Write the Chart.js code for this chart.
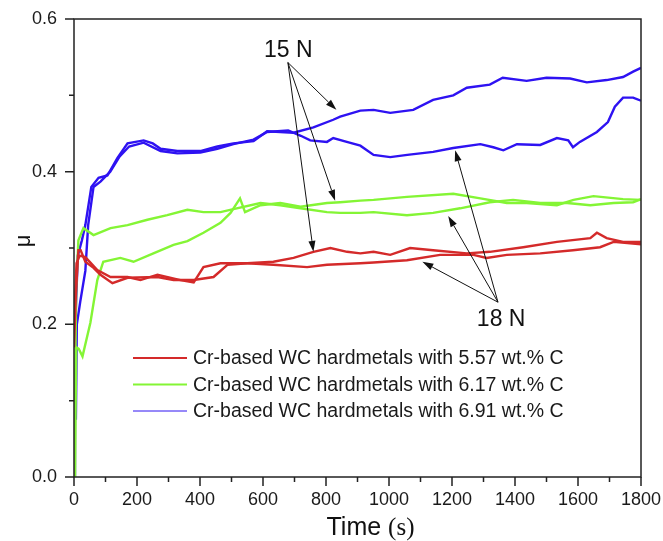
<!DOCTYPE html>
<html>
<head>
<meta charset="utf-8">
<script src="https://cdn.jsdelivr.net/npm/chart.js@4.4.1/dist/chart.umd.min.js"></script>
<style>
  html, body { margin: 0; padding: 0; background: #fff; }
  #wrap { width: 663px; height: 541px; }
</style>
</head>
<body>
<div id="wrap"><canvas id="chart" width="663" height="541"></canvas></div>
<script>
// values: time (s) and friction coefficient mu
const redA_t  = [0, 6, 14, 21, 36, 62, 84, 122, 170, 265, 316, 380, 443, 487, 550, 633, 697, 760, 814, 867, 909, 951, 1004, 1067, 1140, 1247, 1320, 1426, 1533, 1639, 1660, 1691, 1743, 1800];
const redA_mu = [0.17, 0.24, 0.297, 0.297, 0.282, 0.274, 0.265, 0.254, 0.261, 0.262, 0.258, 0.258, 0.262, 0.278, 0.28, 0.282, 0.287, 0.295, 0.3, 0.295, 0.293, 0.295, 0.291, 0.3, 0.297, 0.293, 0.295, 0.301, 0.308, 0.313, 0.32, 0.313, 0.308, 0.308];

const redB_t  = [0, 8, 18, 36, 74, 116, 170, 211, 265, 338, 380, 411, 465, 550, 633, 740, 803, 909, 951, 1057, 1162, 1268, 1310, 1374, 1480, 1584, 1670, 1713, 1800];
const redB_mu = [0.2, 0.28, 0.29, 0.288, 0.271, 0.262, 0.262, 0.258, 0.265, 0.258, 0.255, 0.275, 0.28, 0.28, 0.278, 0.275, 0.278, 0.28, 0.281, 0.284, 0.291, 0.291, 0.287, 0.291, 0.293, 0.297, 0.301, 0.308, 0.305];

const greenA_t  = [0, 3, 7, 14, 30, 62, 116, 170, 233, 296, 360, 411, 465, 506, 592, 655, 719, 803, 845, 909, 951, 1057, 1140, 1226, 1320, 1394, 1480, 1566, 1639, 1713, 1775, 1800];
const greenA_mu = [0.0, 0.1, 0.25, 0.31, 0.326, 0.317, 0.326, 0.33, 0.337, 0.343, 0.35, 0.347, 0.347, 0.351, 0.359, 0.356, 0.352, 0.347, 0.346, 0.346, 0.347, 0.343, 0.346, 0.352, 0.36, 0.363, 0.359, 0.359, 0.356, 0.359, 0.36, 0.364];

const greenB_t  = [3, 7, 15, 27, 52, 74, 93, 147, 189, 252, 316, 360, 411, 465, 497, 527, 543, 592, 655, 719, 803, 845, 909, 951, 1057, 1204, 1290, 1374, 1437, 1533, 1586, 1649, 1743, 1800];
const greenB_mu = [0.0, 0.17, 0.168, 0.158, 0.202, 0.258, 0.282, 0.287, 0.282, 0.293, 0.304, 0.309, 0.32, 0.333, 0.346, 0.365, 0.347, 0.356, 0.359, 0.354, 0.359, 0.36, 0.362, 0.363, 0.367, 0.371, 0.365, 0.359, 0.359, 0.356, 0.363, 0.368, 0.364, 0.363];

const blueA_t  = [0, 5, 12, 25, 36, 55, 78, 106, 138, 170, 221, 250, 275, 328, 401, 455, 506, 570, 613, 655, 697, 760, 823, 845, 909, 951, 1004, 1077, 1140, 1204, 1247, 1320, 1361, 1437, 1500, 1575, 1628, 1691, 1743, 1775, 1800];
const blueA_mu = [0.17, 0.21, 0.29, 0.31, 0.33, 0.38, 0.392, 0.395, 0.418, 0.437, 0.441, 0.437, 0.43, 0.427, 0.427, 0.433, 0.437, 0.44, 0.453, 0.452, 0.451, 0.458, 0.468, 0.472, 0.48, 0.481, 0.477, 0.481, 0.494, 0.5, 0.51, 0.514, 0.523, 0.519, 0.523, 0.522, 0.517, 0.52, 0.524, 0.531, 0.536];

const blueB_t  = [0, 3, 4, 6, 9, 20, 36, 45, 62, 84, 115, 145, 175, 221, 275, 328, 401, 455, 506, 570, 613, 680, 720, 750, 803, 823, 866, 909, 951, 1004, 1058, 1140, 1204, 1290, 1331, 1363, 1406, 1480, 1533, 1569, 1584, 1606, 1660, 1695, 1717, 1743, 1775, 1800];
const blueB_mu = [0.0, 0.07, 0.12, 0.075, 0.2, 0.23, 0.27, 0.33, 0.38, 0.387, 0.4, 0.42, 0.433, 0.438, 0.427, 0.424, 0.425, 0.43, 0.436, 0.442, 0.452, 0.454, 0.447, 0.441, 0.439, 0.444, 0.439, 0.434, 0.422, 0.419, 0.422, 0.426, 0.431, 0.436, 0.432, 0.428, 0.436, 0.435, 0.444, 0.441, 0.432, 0.439, 0.452, 0.465, 0.485, 0.497, 0.497, 0.493];

const legendLabels = [
    'Cr-based WC hardmetals with 5.57 wt.% C',
    'Cr-based WC hardmetals with 6.17 wt.% C',
    'Cr-based WC hardmetals with 6.91 wt.% C'
];
const seriesColors = ['#d42a2a', '#84f535', '#2e12f2'];
const legendLineWidths = [2, 2, 1];

const xMin = 0, xMax = 1800, xStep = 200, xMinorStep = 100;
const yMin = 0, yMax = 0.6, yStep = 0.2, yMinorStep = 0.1;

// load labels with arrow anchors, in data units
const notes = [
    { text: '15 N', at: [680, 0.559], from: [679, 0.543], to: [[833, 0.481], [829, 0.362], [760, 0.295]] },
    { text: '18 N', at: [1356, 0.206], from: [1346, 0.229], to: [[1210, 0.428], [1188, 0.342], [1106, 0.282]] }
];

const SANS = '"Liberation Sans", Arial, sans-serif';
const SERIF = '"Liberation Serif", "Times New Roman", serif';

function toPoints(ts, ms) {
    return ts.map((t, i) => ({ x: t, y: ms[i] }));
}

function makeSet(ts, ms, color) {
    return {
        data: toPoints(ts, ms),
        borderColor: color,
        borderWidth: 2.4,
        pointRadius: 0,
        tension: 0,
        fill: false
    };
}

function drawArrow(ctx, x0, y0, x1, y1) {
    const ang = Math.atan2(y1 - y0, x1 - x0);
    const hl = 11, hw = 3.5;
    const bx = x1 - hl * Math.cos(ang), by = y1 - hl * Math.sin(ang);
    ctx.beginPath();
    ctx.moveTo(x0, y0);
    ctx.lineTo(bx, by);
    ctx.stroke();
    ctx.beginPath();
    ctx.moveTo(x1, y1);
    ctx.lineTo(bx + hw * Math.sin(ang), by - hw * Math.cos(ang));
    ctx.lineTo(bx - hw * Math.sin(ang), by + hw * Math.cos(ang));
    ctx.closePath();
    ctx.fill();
}

// frame, ticks, legend, notes and axis titles
const decor = {
    id: 'decor',
    afterDraw(chart) {
        const { ctx, chartArea: a, scales: { x, y } } = chart;
        ctx.save();
        ctx.strokeStyle = '#222';
        ctx.lineWidth = 1.5;
        ctx.strokeRect(a.left, a.top, a.right - a.left, a.bottom - a.top);

        ctx.beginPath();
        for (let v = xMin; v <= xMax; v += xMinorStep) {
            const px = x.getPixelForValue(v);
            const len = v % xStep === 0 ? 9 : 5;
            ctx.moveTo(px, a.bottom);
            ctx.lineTo(px, a.bottom + len);
        }
        const ny = Math.round((yMax - yMin) / yMinorStep);
        for (let i = 0; i <= ny; i++) {
            const py = y.getPixelForValue(yMin + i * yMinorStep);
            const len = i % 2 === 0 ? 9 : 5;
            ctx.moveTo(a.left, py);
            ctx.lineTo(a.left - len, py);
        }
        ctx.stroke();

        // legend inside the plot
        ctx.font = '19.5px ' + SANS;
        ctx.textBaseline = 'middle';
        ctx.textAlign = 'left';
        legendLabels.forEach((lab, i) => {
            const ly = a.top + 339 + i * 26.5;
            ctx.strokeStyle = seriesColors[i];
            ctx.lineWidth = legendLineWidths[i];
            ctx.beginPath();
            ctx.moveTo(a.left + 59, ly);
            ctx.lineTo(a.left + 113, ly);
            ctx.stroke();
            ctx.fillStyle = '#1a1a1a';
            ctx.fillText(lab, a.left + 119, ly + 1);
        });

        // notes with arrows
        ctx.strokeStyle = '#111';
        ctx.fillStyle = '#111';
        ctx.lineWidth = 1;
        notes.forEach(n => {
            const fx = x.getPixelForValue(n.from[0]), fy = y.getPixelForValue(n.from[1]);
            n.to.forEach(p => drawArrow(ctx, fx, fy, x.getPixelForValue(p[0]), y.getPixelForValue(p[1])));
            ctx.font = '23px ' + SANS;
            ctx.textAlign = 'center';
            ctx.textBaseline = 'middle';
            ctx.fillText(n.text, x.getPixelForValue(n.at[0]), y.getPixelForValue(n.at[1]));
        });

        // x title: "Time" sans, "(s)" serif
        const t1 = 'Time ', t2 = '(s)';
        ctx.font = '25px ' + SANS;
        const w1 = ctx.measureText(t1).width;
        ctx.font = '25px ' + SERIF;
        const w2 = ctx.measureText(t2).width;
        const cx = (a.left + a.right) / 2 + 13;
        const ty = a.bottom + 51;
        ctx.textAlign = 'left';
        ctx.textBaseline = 'middle';
        ctx.fillStyle = '#111';
        ctx.font = '25px ' + SANS;
        ctx.fillText(t1, cx - (w1 + w2) / 2, ty);
        ctx.font = '25px ' + SERIF;
        ctx.fillText(t2, cx - (w1 + w2) / 2 + w1, ty);

        // y title
        ctx.save();
        ctx.translate(24, (a.top + a.bottom) / 2 - 7);
        ctx.rotate(-Math.PI / 2);
        ctx.font = '22px ' + SANS;
        ctx.textAlign = 'center';
        ctx.fillText('μ', 0, 0);
        ctx.restore();

        ctx.restore();
    }
};

function createChart() {
    const ctx = document.getElementById('chart').getContext('2d');
    new Chart(ctx, {
        type: 'line',
        data: {
            datasets: [
                makeSet(redA_t, redA_mu, seriesColors[0]),
                makeSet(redB_t, redB_mu, seriesColors[0]),
                makeSet(greenA_t, greenA_mu, seriesColors[1]),
                makeSet(greenB_t, greenB_mu, seriesColors[1]),
                makeSet(blueA_t, blueA_mu, seriesColors[2]),
                makeSet(blueB_t, blueB_mu, seriesColors[2])
            ]
        },
        options: {
            responsive: false,
            animation: false,
            layout: { padding: { top: 19, right: 22, left: 0, bottom: 0 } },
            plugins: { legend: { display: false }, tooltip: { enabled: false } },
            scales: {
                x: {
                    type: 'linear',
                    min: xMin,
                    max: xMax,
                    grid: { display: false, drawTicks: false },
                    border: { display: false },
                    ticks: {
                        stepSize: xStep,
                        padding: 12,
                        maxRotation: 0,
                        autoSkip: false,
                        color: '#1a1a1a',
                        font: { family: SANS, size: 18 },
                        callback: v => String(v)
                    },
                    afterFit(scale) {
                        scale.height = 64;
                        scale.paddingLeft = 0;
                        scale.paddingRight = 0;
                    }
                },
                y: {
                    min: yMin,
                    max: yMax,
                    grid: { display: false, drawTicks: false },
                    border: { display: false },
                    ticks: {
                        stepSize: yStep,
                        padding: 17,
                        color: '#1a1a1a',
                        font: { family: SANS, size: 18 },
                        callback: v => v.toFixed(1)
                    },
                    afterFit(scale) {
                        scale.width = 74;
                        scale.paddingTop = 0;
                        scale.paddingBottom = 0;
                    }
                }
            }
        },
        plugins: [decor]
    });
}

document.addEventListener('DOMContentLoaded', createChart);
</script>
</body>
</html>
